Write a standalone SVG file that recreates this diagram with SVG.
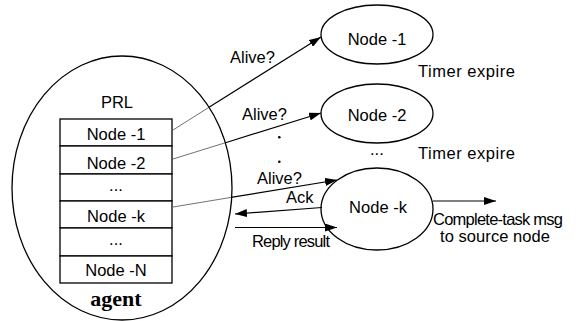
<svg xmlns="http://www.w3.org/2000/svg" width="580" height="321" viewBox="0 0 580 321">
<style>
.sh{fill:none;stroke:#000;stroke-width:1.3}
.cell{fill:#fff;stroke:#000;stroke-width:1.3}
.t{font-family:"Liberation Sans",Arial,sans-serif;font-size:16.5px;fill:#000}
.c{text-anchor:middle}
.ln{stroke:#000;stroke-width:1.2;fill:none}
.thin{stroke:#333;stroke-width:0.7;fill:none}
.ag{font-family:"Liberation Serif","Times New Roman",serif;font-weight:bold;font-size:22px;text-anchor:middle;fill:#000}
</style>
<defs>
<marker id="ah" markerUnits="userSpaceOnUse" markerWidth="13" markerHeight="8" refX="12" refY="4" orient="auto">
<path d="M0,0 L12,4 L0,8 Z" fill="#000"/>
</marker>
</defs>
<rect width="580" height="321" fill="#fff"/>
<g id="agent">
<ellipse class="sh" cx="122" cy="188" rx="110" ry="132"/>
<text class="t c" x="117" y="108">PRL</text>
<text class="ag" x="116" y="306">agent</text>
</g>
<g id="prl">
<rect class="cell" x="60" y="119" width="112" height="27"/>
<rect class="cell" x="60" y="146" width="112" height="28"/>
<rect class="cell" x="60" y="174" width="112" height="27"/>
<rect class="cell" x="60" y="201" width="112" height="27"/>
<rect class="cell" x="60" y="228" width="112" height="28"/>
<rect class="cell" x="60" y="256" width="112" height="27"/>
<text class="t c" x="116" y="140">Node -1</text>
<text class="t c" x="116" y="169">Node -2</text>
<text class="t c" x="116" y="191" font-size="13">...</text>
<text class="t c" x="116" y="222">Node -k</text>
<text class="t c" x="116" y="245" font-size="13">...</text>
<text class="t c" x="116" y="276">Node -N</text>
</g>
<g id="node1">
<ellipse class="sh" cx="377" cy="34.5" rx="56" ry="29.5"/>
<text class="t c" x="377" y="45">Node -1</text>
</g>
<g id="node2">
<ellipse class="sh" cx="377" cy="113.5" rx="56" ry="29.5"/>
<text class="t c" x="377" y="121">Node -2</text>
</g>
<g id="nodek">
<ellipse class="sh" cx="377" cy="209" rx="56" ry="41"/>
<text class="t c" x="378" y="213">Node -k</text>
</g>
<g id="connectors">
<line class="thin" x1="173" y1="130" x2="209" y2="107.3"/>
<line class="ln" x1="209" y1="107.3" x2="321" y2="37" marker-end="url(#ah)"/>
<line class="thin" x1="173" y1="159" x2="225.5" y2="142.7"/>
<line class="ln" x1="225.5" y1="142.7" x2="321" y2="113" marker-end="url(#ah)"/>
<line class="thin" x1="173" y1="207" x2="231" y2="197.4"/>
<line class="ln" x1="231" y1="197.4" x2="337" y2="180" marker-end="url(#ah)"/>
<line class="ln" x1="322" y1="207.5" x2="235" y2="214" marker-end="url(#ah)"/>
<line class="ln" x1="235" y1="227.5" x2="337" y2="227.5" marker-end="url(#ah)"/>
<line class="ln" stroke-width="0.9" x1="433" y1="201" x2="496" y2="201" marker-end="url(#ah)"/>
</g>
<g id="labels">
<text class="t" x="230" y="63">Alive?</text>
<text class="t" x="242" y="120">Alive?</text>
<text class="t" x="257" y="184">Alive?</text>
<text class="t" x="286" y="203" font-size="13">Ack</text>
<text class="t" x="252" y="247" font-size="14" textLength="78">Reply result</text>
<text class="t" x="418" y="77" font-size="16" textLength="97">Timer expire</text>
<text class="t" x="418" y="158.5" font-size="16" textLength="97">Timer expire</text>
<text class="t" x="370" y="155" font-size="14">...</text>
<circle cx="279.3" cy="137.3" r="1.3" fill="#000"/>
<circle cx="279.3" cy="161.7" r="1.3" fill="#000"/>
<text class="t" x="433" y="225" font-size="15" textLength="130">Complete-task msg</text>
<text class="t" x="440" y="242" font-size="15" textLength="110">to source node</text>
</g>
</svg>
